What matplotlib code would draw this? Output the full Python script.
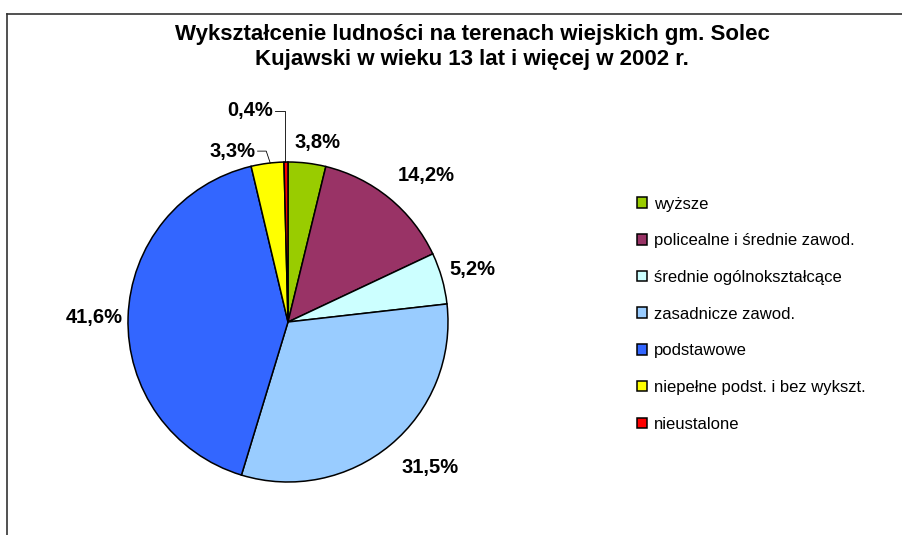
import matplotlib
matplotlib.use("Agg")
import matplotlib.pyplot as plt
import numpy as np
from matplotlib.lines import Line2D

plt.rcParams['font.family'] = ['Liberation Sans', 'DejaVu Sans']

title = "Wykształcenie ludności na terenach wiejskich gm. Solec\nKujawski w wieku 13 lat i więcej w 2002 r."
categories = ["wyższe", "policealne i średnie zawod.", "średnie ogólnokształcące",
              "zasadnicze zawod.", "podstawowe", "niepełne podst. i bez wykszt.", "nieustalone"]
values = [3.8, 14.2, 5.2, 31.5, 41.6, 3.3, 0.4]
labels = ["3,8%", "14,2%", "5,2%", "31,5%", "41,6%", "3,3%", "0,4%"]
colors = ["#99CC00", "#993366", "#CCFFFF", "#99CCFF", "#3366FF", "#FFFF00", "#FF0000"]

W, H = 902, 535
fig = plt.figure(figsize=(W / 100, H / 100), dpi=100)

cx, cy, R = 288, 322, 162
half = 200
ax = fig.add_axes([(cx - half) / W, (H - cy - half) / H, 2 * half / W, 2 * half / H])
ax.set_xlim(-half / R, half / R)
ax.set_ylim(-half / R, half / R)
ax.set_aspect('equal')
ax.axis('off')

wedges, _ = ax.pie(values, colors=colors, startangle=90, counterclock=False, radius=1,
                   wedgeprops=dict(edgecolor='black', linewidth=1.1))

LFS = 14.5
# label placement (radius factor per slice; small slices use leader lines)
rfac = [1.14, 1.26, 1.2, 1.27, 1.21, None, None]
adj = [-2.5, -4, 0, 4.5, 0.5, 0, 0]  # small angular tweaks (degrees)
for w, lab, rf, da in zip(wedges, labels, rfac, adj):
    mid = np.deg2rad((w.theta1 + w.theta2) / 2 + da)
    if rf is not None:
        ax.text(rf * np.cos(mid), rf * np.sin(mid), lab, ha='center', va='center',
                fontsize=LFS, fontweight='bold')

# leader-line labels: (line start x, elbow x, elbow y, wedge-end x, text right x)
lead = {5: (-0.19, -0.136, 1.068, -0.111, -0.205),
        6: (-0.08, -0.0185, 1.321, -0.0185, -0.095)}
for idx, (sx, ex, ey, px, tx) in lead.items():
    w = wedges[idx]
    py = np.sqrt(max(1 - px ** 2, 0))
    ax.plot([sx, ex, px], [ey, ey, py], color='black', linewidth=0.6, clip_on=False)
    ax.text(tx, ey, labels[idx], ha='right', va='center', fontsize=LFS, fontweight='bold')

fig.text(472 / W, 1 - 47 / H, title, ha='center', va='center', fontsize=16,
         fontweight='bold', linespacing=1.25)

leg = fig.legend(wedges, categories, loc='upper left', bbox_to_anchor=(630 / W, 1 - 190 / H),
                 frameon=False, fontsize=12, handlelength=0.6, handleheight=0.6,
                 handletextpad=0.45, labelspacing=1.3, borderaxespad=0)

# outer chart frame (left and top edges visible)
fig.add_artist(Line2D([7.5 / W, 7.5 / W], [0, 1 - 14 / H], color='#333333', linewidth=1.2,
                      transform=fig.transFigure))
fig.add_artist(Line2D([7.5 / W, 1], [1 - 14 / H, 1 - 14 / H], color='#333333', linewidth=1.2,
                      transform=fig.transFigure))

fig.savefig("out.png", dpi=100, facecolor='white')
